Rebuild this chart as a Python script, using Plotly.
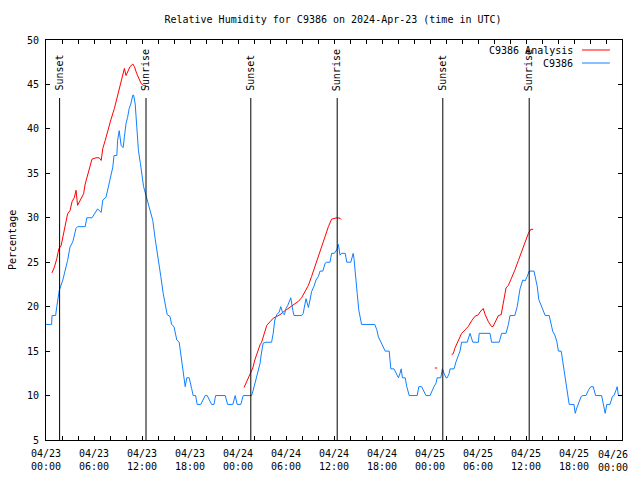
import plotly.graph_objects as go
import pandas as pd

START = pd.Timestamp("2024-04-23 00:00")

# ---- Observed relative humidity (C9386), hours since 2024-04-23 00:00 UTC ----
obs_hours = [0.0, 0.7, 0.75, 1.2, 1.35, 1.65, 2.1, 2.5, 2.7, 3.0, 3.35, 3.75, 3.95, 4.9, 5.1, 5.75,
             6.05, 6.45, 6.9, 7.1, 7.5, 7.8, 8.1, 8.35, 8.5, 8.85, 8.95, 9.15, 9.4, 9.65, 9.8, 10.0,
             10.2, 10.4, 10.6, 10.85, 10.95, 11.15, 11.35, 11.55, 11.8, 12.0, 12.2, 12.5, 12.9, 13.35,
             13.65, 14.05, 14.35, 14.65, 15.0, 15.15, 15.5, 15.7, 16.0, 16.35, 16.65, 16.85, 17.1,
             17.4, 17.6, 17.9, 18.2, 18.4, 18.7, 18.9, 19.35, 19.9, 20.15, 20.7, 21.0, 21.2, 22.4,
             22.7, 23.35, 23.65, 23.9, 24.35, 24.65, 25.7, 25.9, 26.35, 26.75, 26.95, 27.15, 27.5,
             28.2, 28.4, 28.6, 28.85, 29.15, 29.35, 29.6, 29.8, 30.0, 30.2, 30.4, 30.6, 30.85, 31.0,
             31.95, 32.15, 32.5, 32.8, 33.0, 33.2, 33.5, 33.75, 34.05, 34.25, 34.6, 34.9, 35.1, 35.5,
             35.7, 36.05, 36.35, 36.55, 36.75, 36.95, 37.4, 37.6, 38.1, 38.35, 38.4, 38.5, 38.6,
             38.75, 38.9, 39.1, 39.35, 39.45, 41.1, 41.35, 41.55, 41.75, 41.95, 42.15, 42.4, 42.9,
             43.0, 43.1, 43.5, 43.85, 44.05, 44.25, 44.4, 44.55, 44.9, 45.1, 45.4, 46.4, 46.6, 46.95,
             47.4, 47.5, 48.0, 48.35, 48.5, 48.75, 48.9, 49.35, 49.55, 49.75, 50.0, 50.15, 50.4,
             50.5, 51.0, 51.25, 51.55, 51.75, 51.95, 52.65, 53.0, 53.35, 54.05, 54.15, 55.5, 55.7,
             56.65, 56.95, 57.5, 57.8, 58.0, 58.6, 58.9, 59.05, 59.25, 59.6, 59.9, 60.15, 60.4,
             61.0, 61.25, 61.4, 61.6, 61.9, 62.1, 62.4, 62.9, 63.1, 63.35, 63.6, 63.85, 64.05, 64.4,
             64.6, 64.8, 65.0, 65.2, 65.4, 66.0, 66.15, 66.35, 66.6, 66.9, 67.1, 67.5, 67.8, 68.1,
             68.4, 68.7, 69.45, 69.65, 69.9, 70.1, 70.5, 70.8, 71.0, 71.25, 71.4, 71.55, 71.85]
obs_values = [18, 18, 19, 19, 20, 21.8, 23, 24.5, 25.2, 26.7, 27.3, 28.8, 29, 29, 30, 30,
              30.5, 31, 30.6, 32, 32.3, 33.6, 34.6, 35.7, 37, 37, 38.7, 39.8, 38.1, 37.9, 39.1, 40.6,
              41.3, 42.3, 42.8, 43.8, 43.8, 42.8, 40.2, 37.6, 36.1, 34.6, 33.5, 32.5, 31.2, 29.7,
              27.6, 25.4, 23.4, 21.5, 20, 19.1, 18.9, 18, 17.75, 16.25, 16, 14.6, 12.9,
              11, 12, 12, 10.8, 10, 10, 9, 9, 10, 10, 9, 9, 10, 10,
              9, 9, 10, 9, 9, 10, 10, 10.6, 12.1, 13.6, 14.9, 15.9, 16,
              16, 17, 18.5, 19.1, 19.4, 20, 19.25, 19.1, 19.8, 20.1, 20.5, 21, 19.6, 19,
              19, 19.25, 20.9, 19.9, 20.75, 21.7, 22.3, 23, 23.4, 24, 24, 24.9, 25, 25,
              26, 26, 26.4, 27, 25.8, 26, 26, 25, 25, 25.8, 26, 25.4, 24.5,
              23.6, 21.5, 19.6, 18.5, 18, 18, 17.4, 16.6, 16.25, 15.9, 15.5, 15, 15,
              14, 13, 13, 12.3, 12, 12.5, 13, 12, 12, 11, 10, 10, 11, 11,
              10.25, 10, 10, 10.8, 11, 11.4, 12, 12, 13, 12.5, 12, 12, 12.5,
              13, 13, 13.8, 14.4, 15, 16, 16, 17, 16, 16, 17, 17, 16,
              16, 17, 17, 18, 19, 19, 20, 21.1, 22, 23, 22.9, 23.4, 24,
              24, 22.8, 22.3, 20.8, 20.2, 19.6, 19, 19, 18.3, 17.2, 16.8, 16.1, 15, 15,
              13.8, 12.5, 11, 10, 9, 9, 8, 8.6, 9.3, 9.9, 10, 10, 10.6, 11,
              11, 10, 10, 9, 8, 9, 9, 9.9, 10, 10.6, 11, 10, 10]

# ---- Analysis relative humidity (C9386 Analysis); None marks gaps ----
ana_hours = [0.75, 1.05, 1.35, 1.6, 1.9, 2.1, 2.3, 2.5, 2.7, 3.0, 3.25, 3.55, 3.75, 3.95, 4.15,
             4.5, 4.7, 4.9, 5.2, 5.5, 5.75, 6.25, 6.65, 6.9, 7.1, 7.4, 7.7, 8.1, 8.55, 8.85, 9.15,
             9.5, 9.8, 10.0, 10.2, 10.5, 10.85, 11.05, 11.35, 11.6, 11.9, 12.15, 12.5,
             None,
             24.75, 25.1, 25.5, 25.85, 26.1, 26.4, 26.75, 26.95, 27.25, 27.6, 28.0, 28.4, 28.85,
             29.25, 29.65, 30.3, 30.9, 31.55, 31.95, 32.4, 32.8, 33.2, 33.6, 34.05, 34.45, 34.9,
             35.3, 35.7, 36.35, 36.75, 36.9,
             None,
             48.6, 48.9,
             None,
             50.7, 50.9, 51.1, 51.55, 51.95, 52.4, 52.8, 53.2, 53.6, 54.05, 54.25, 54.65, 54.9,
             55.3, 55.7, 55.9, 56.25, 56.55, 56.9, 57.1, 57.25, 57.5, 57.8, 58.2, 58.6, 59.05,
             59.45, 59.9, 60.3, 60.6, 60.9]
ana_values = [23.8, 24.45, 25.4, 26.5, 26.9, 27.8, 29.0, 29.7, 30.45, 30.8, 31.8, 32.3, 33.1, 31.4, 31.8,
              32.3, 32.7, 33.8, 34.8, 35.7, 36.6, 36.75, 36.75, 36.45, 37.8, 38.7, 39.8, 41.0, 42.3, 43.4, 44.7,
              45.8, 46.8, 46.0, 46.4, 47.0, 47.3, 47.0, 46.2, 45.6, 45.1, 44.9, 44.9,
              None,
              10.9, 11.6, 12.3, 13.1, 14.0, 14.9, 15.7, 16.0, 17.0, 17.9, 18.3, 18.7, 18.9,
              19.1, 19.4, 19.8, 20.2, 20.6, 21.0, 21.7, 22.4, 23.4, 24.5, 25.6, 26.75, 27.9,
              29.0, 29.85, 30.0, 29.95, 29.8,
              None,
              13.1, 13.1,
              None,
              14.6, 14.7, 15.3, 16.2, 17.0, 17.4, 17.8, 18.4, 18.9, 19.1, 19.4, 19.8, 19.1,
              18.3, 17.75, 17.8, 18.4, 19.0, 19.1, 20.0, 21.1, 22.1, 22.4, 23.2, 24.1, 25.2,
              26.2, 27.3, 28.25, 28.7, 28.7]

# ---- Sunrise / sunset events (hours since start) ----
sun_hours = [1.7, 12.5, 25.6, 36.4, 49.6, 60.4]
sun_labels = ["Sunset", "Sunrise", "Sunset", "Sunrise", "Sunset", "Sunrise"]

# ---- Axis ticks ----
x_tick_hours = list(range(0, 73, 2))
x_label_hours = list(range(0, 73, 6))
x_tick_labels = ["04/23<br>00:00", "04/23<br>06:00", "04/23<br>12:00", "04/23<br>18:00",
                 "04/24<br>00:00", "04/24<br>06:00", "04/24<br>12:00", "04/24<br>18:00",
                 "04/25<br>00:00", "04/25<br>06:00", "04/25<br>12:00", "04/25<br>18:00",
                 "04/26<br>00:00"]
y_ticks = [5, 10, 15, 20, 25, 30, 35, 40, 45, 50]

series_names = ["C9386 Analysis", "C9386"]
series_colors = ["#ff0000", "#1080ff"]


def to_time(hours):
    return [None if h is None else START + pd.Timedelta(hours=h) for h in hours]


FONT = "DejaVu Sans Mono"
FIG_W, FIG_H = 640, 480  # page body adds an 8px offset; margins compensate

fig = go.Figure()
fig.add_trace(go.Scatter(x=to_time(ana_hours), y=ana_values, mode="lines",
                         line=dict(color=series_colors[0], width=1),
                         connectgaps=False, name=series_names[0], showlegend=False))
fig.add_trace(go.Scatter(x=to_time(obs_hours), y=obs_values, mode="lines",
                         line=dict(color=series_colors[1], width=1),
                         name=series_names[1], showlegend=False))

# sunrise / sunset markers
for h, lab in zip(sun_hours, sun_labels):
    t = START + pd.Timedelta(hours=h)
    fig.add_shape(type="line", xref="x", yref="paper", x0=t, x1=t, y0=0, y1=0.855,
                  line=dict(color="black", width=1))
    fig.add_annotation(x=t, xref="x", y=0.8675, yref="paper", text=lab, textangle=-90,
                       showarrow=False, xanchor="center", yanchor="bottom",
                       font=dict(family=FONT, size=10, color="black"))

# manual gnuplot-style legend (text, then line sample)
leg_y = [0.975, 0.9425]
for name, col, ly in zip(series_names, series_colors, leg_y):
    fig.add_annotation(x=0.918, xref="paper", y=ly, yref="paper", text=name, showarrow=False,
                       xanchor="right", yanchor="middle",
                       font=dict(family=FONT, size=10, color="black"))
    fig.add_shape(type="line", xref="paper", yref="paper", x0=0.9306, x1=0.979, y0=ly, y1=ly,
                  line=dict(color=col, width=1))

# y axis title
fig.add_annotation(x=-0.059, xref="paper", y=0.5, yref="paper", text="Percentage", textangle=-90,
                   showarrow=False, xanchor="center", yanchor="middle",
                   font=dict(family=FONT, size=10, color="black"))

tickvals = to_time(x_tick_hours)
label_map = dict(zip(x_label_hours, x_tick_labels))
# the final label sits at the right edge; draw it as an annotation shifted inside the page
ticktext = [label_map.get(h, "") if h != x_label_hours[-1] else "" for h in x_tick_hours]
fig.add_annotation(x=0.984, xref="paper", y=-0.0175, yref="paper", text=x_tick_labels[-1],
                   showarrow=False, xanchor="center", yanchor="top", align="center",
                   font=dict(family=FONT, size=10, color="black"))

fig.update_layout(
    width=FIG_W, height=FIG_H,
    margin=dict(l=38, r=26, t=32, b=48, autoexpand=False),
    paper_bgcolor="white", plot_bgcolor="white",
    title=dict(text="Relative Humidity for C9386 on 2024-Apr-23 (time in UTC)",
               x=325 / FIG_W, xanchor="center", y=1 - 11 / FIG_H, yanchor="middle",
               font=dict(family=FONT, size=10, color="black")),
    font=dict(family=FONT, size=10, color="black"),
    showlegend=False,
)
fig.update_xaxes(type="date", range=[START, START + pd.Timedelta(hours=72)],
                 tickvals=tickvals, ticktext=ticktext, ticks="inside", ticklen=4,
                 tickcolor="black", showline=True, linecolor="black", linewidth=1,
                 mirror="ticks", showgrid=False, zeroline=False, ticklabelstandoff=4,
                 automargin=False,
                 tickfont=dict(family=FONT, size=10, color="black"))
fig.update_yaxes(range=[5, 50], tickvals=y_ticks, ticks="inside", ticklen=4,
                 tickcolor="black", showline=True, linecolor="black", linewidth=1,
                 mirror="ticks", showgrid=False, zeroline=False, ticklabelstandoff=4,
                 automargin=False,
                 tickfont=dict(family=FONT, size=10, color="black"))

fig.write_html("out.html")
